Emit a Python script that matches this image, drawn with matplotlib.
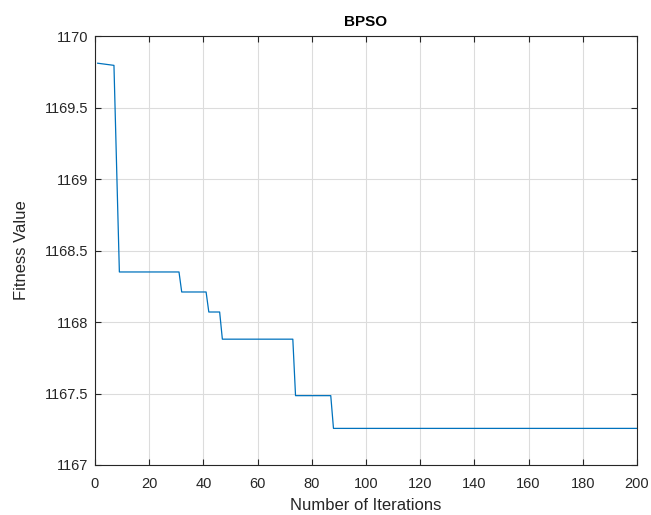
import numpy as np
import matplotlib.pyplot as plt

plt.rcParams['font.family'] = ['Liberation Sans', 'DejaVu Sans']

# === Data: breakpoints of the best-fitness curve ===
iterations = [1, 7, 9, 31, 32, 41, 42, 46, 47, 73, 74, 87, 88, 200]
fitness = [1169.81, 1169.795, 1168.35, 1168.35, 1168.21, 1168.21, 1168.07,
           1168.07, 1167.88, 1167.88, 1167.485, 1167.485, 1167.256, 1167.256]

x_ticks = [0, 20, 40, 60, 80, 100, 120, 140, 160, 180, 200]
y_ticks = [1167, 1167.5, 1168, 1168.5, 1169, 1169.5, 1170]

# === Plot ===
fig = plt.figure(figsize=(6.51, 5.15), dpi=100)
ax = fig.add_axes([0.1459, 0.0971, 0.8326, 0.8329])

ax.plot(iterations, fitness, color='#0072BD', linewidth=0.9)

ax.set_xlim(0, 200)
ax.set_ylim(1167, 1170)
ax.set_xticks(x_ticks)
ax.set_yticks(y_ticks)
ax.set_yticklabels([f"{v:g}" for v in y_ticks])

ax.grid(True, color='#dcdcdc', linewidth=0.8)
ax.set_axisbelow(True)
ax.tick_params(direction='in', top=True, right=True, labelsize=10.5,
               colors='#262626', length=4, width=0.8)
ax.tick_params(axis='x', pad=9)
ax.tick_params(axis='y', pad=5)
for s in ax.spines.values():
    s.set_color('#262626')
    s.set_linewidth(0.8)

ax.set_xlabel('Number of Iterations', fontsize=12, color='#262626', labelpad=5)
ax.set_ylabel('Fitness Value', fontsize=12, color='#262626', labelpad=11)
ax.set_title('BPSO', fontsize=11, fontweight='bold', color='black', pad=7)

plt.savefig('out.png', dpi=100)
